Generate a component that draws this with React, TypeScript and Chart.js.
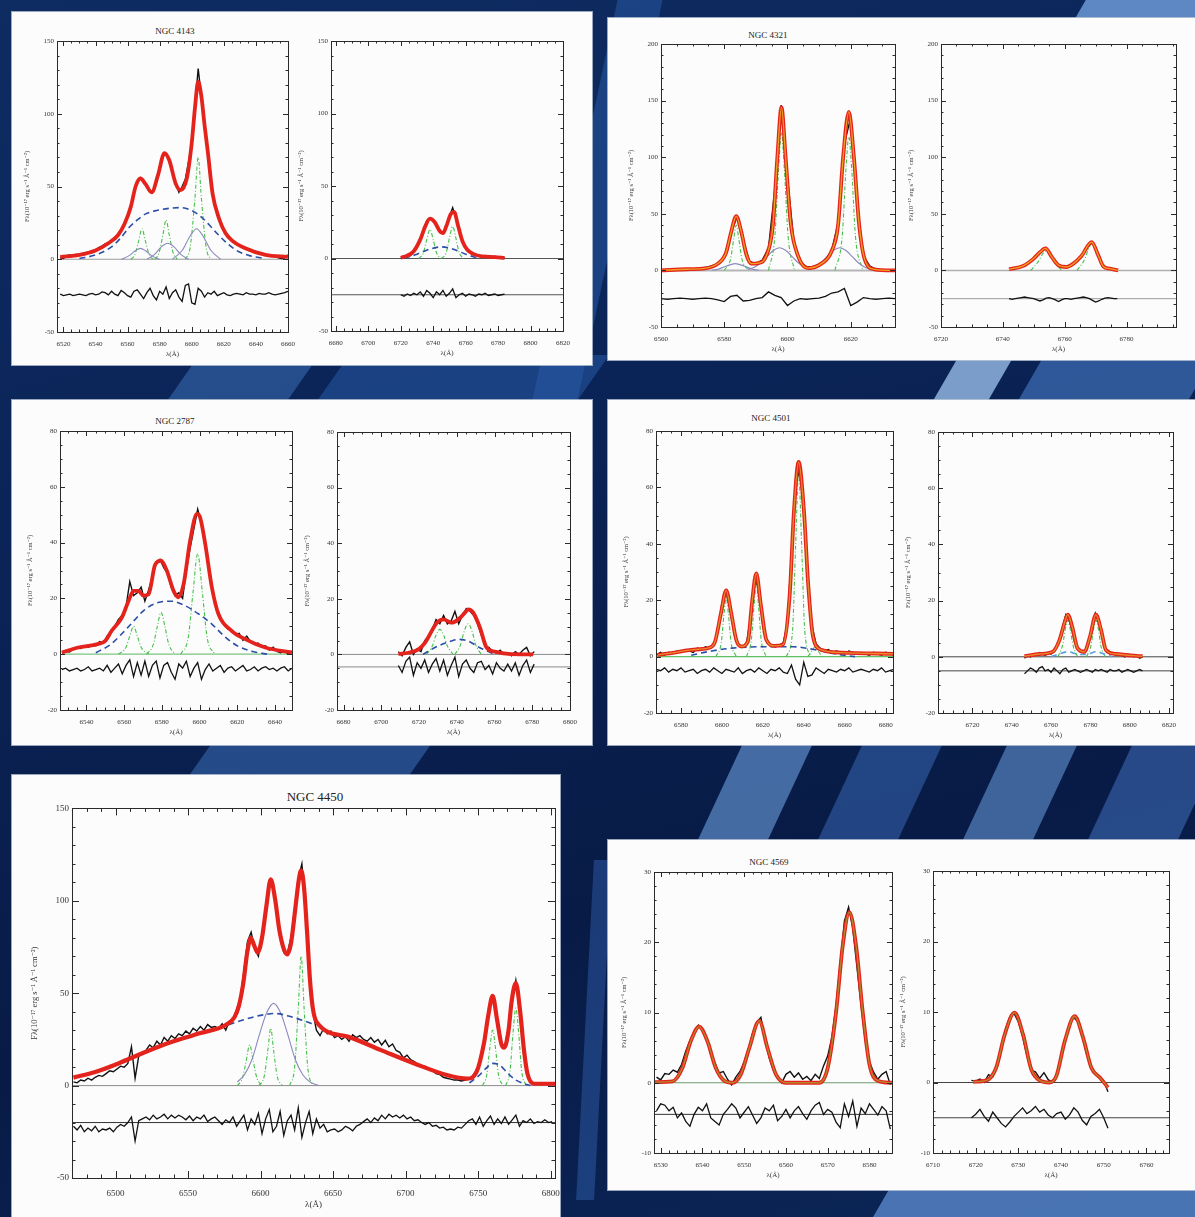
import React, { useEffect, useRef } from "react";
import { Chart, registerables } from "chart.js";

Chart.register(...registerables);
Chart.defaults.font.family = "'Liberation Serif', 'DejaVu Serif', serif";

type Pt = [number, number];

/* ======================= DATA ======================= */

// ---------- NGC 4143 : Hα + [N II] window ----------
const n4143L_xTicks = [6520, 6540, 6560, 6580, 6600, 6620, 6640, 6660];
const n4143_yTicks = [-50, 0, 50, 100, 150];
const n4143L_x0 = 6518;
const n4143L_dx = 2;
const n4143L_obs = [
  1, 0.5, 2.5, 3, 2.5, 3.5, 3, 4, 4.5, 5,
  5.5, 6.5, 8, 9, 10.5, 11.5, 13, 15, 16.5, 20,
  24.5, 29, 37, 46, 53, 56, 53, 51, 47, 47,
  55, 63, 71, 72, 68, 59, 52, 46, 50, 55,
  67, 80, 105, 131, 112, 90, 73, 52, 40, 31,
  25, 20, 17, 14, 12, 10.5, 9, 8, 7.5, 6,
  5.5, 5, 4, 3.5, 3, 2.5, 2.5, 2, 1, 0.5,
  1, 3,
];
const n4143L_res = [
  -24, -25, -24.5, -24, -25, -24.5, -24, -24.5, -25, -24,
  -23.5, -24.5, -24, -22.5, -23, -24.5, -22, -24, -25, -21.5,
  -23, -25, -26, -22, -21, -24, -27, -23, -20, -25,
  -28, -22, -24, -19, -27, -23, -21, -26, -29, -18,
  -17, -30, -31, -20, -22, -26, -23, -24, -22, -25,
  -24, -23, -24.5, -25, -24, -23.5, -24, -24.5, -23, -24,
  -24, -24.5, -23.5, -24, -24, -23, -24, -24.5, -24, -23.5,
  -23, -22,
];
const n4143L_model: Pt[] = [
  [6518, 1.5], [6530, 3], [6540, 6], [6548, 11], [6554, 16.5], [6558, 24], [6562, 36], [6565, 50],
  [6568, 55.5], [6571, 52], [6575, 46], [6579, 58], [6583, 73], [6586, 68], [6590, 52], [6593, 47.5],
  [6597, 56], [6600, 80], [6602, 104], [6604, 122], [6606, 112], [6608, 92], [6610, 74], [6613, 45],
  [6617, 28], [6621, 18], [6625, 13], [6633, 7.7], [6646, 3], [6660, 1.6],
];
const n4143L_broad: Pt[] = [
  [6530, 0.5], [6540, 3], [6550, 8.5], [6556, 15], [6561, 22], [6566, 27], [6571, 31], [6578, 33.5],
  [6586, 35], [6593, 35.5], [6600, 33.5], [6606, 29], [6611, 23.5], [6616, 17.5], [6622, 11], [6628, 6],
  [6636, 2.5], [6646, 0.5],
];
const n4143L_inter: Pt[][] = [
  [[6556, 0], [6561, 2.5], [6565, 6], [6568, 7.5], [6571, 6], [6575, 2.5], [6580, 0]],
  [[6572, 0], [6577, 3.5], [6581, 8.5], [6585, 11], [6589, 8.5], [6593, 3.5], [6598, 0]],
  [[6588, 0], [6594, 6], [6599, 16], [6603, 21], [6607, 16], [6612, 6], [6618, 0]],
];
const n4143L_narrow: Pt[][] = [
  [[6562, 0], [6564.5, 3], [6567, 13], [6569, 21], [6571, 13], [6573.5, 3], [6576, 0]],
  [[6577, 0], [6579.5, 4], [6582, 16.5], [6584, 27], [6586, 16.5], [6588.5, 4], [6591, 0]],
  [[6596, 0], [6599, 8], [6602, 42], [6604, 70], [6606, 42], [6609, 8], [6612, 0]],
];

// ---------- NGC 4143 : [S II] window ----------
const n4143R_xTicks = [6680, 6700, 6720, 6740, 6760, 6780, 6800, 6820];
const n4143R_x0 = 6720;
const n4143R_dx = 2;
const n4143R_obs = [
  0, 1, 2.5, 2, 5, 9, 14, 20, 26, 28,
  26.5, 22, 18, 17, 23, 29, 35, 28, 19, 12,
  7, 5.5, 3, 2.5, 2, 1, 2, 1.5, 0.5, 1.5,
  1, 0, 0.5,
];
const n4143R_res = [
  -25, -26, -24.5, -25.5, -24, -25, -23, -26, -22, -24,
  -27, -23, -25, -22, -26, -24, -21, -27, -25, -24,
  -26, -24.5, -25, -26, -24.5, -25, -24, -25.5, -25, -24.5,
  -25.5, -25, -24.5,
];
const n4143R_model: Pt[] = [
  [6720, 0.5], [6724, 2], [6728, 5], [6732, 13], [6735, 22], [6738, 27.5], [6741, 25], [6744, 19],
  [6746, 17.5], [6748, 22], [6751, 31], [6753, 32], [6755, 24], [6758, 12], [6761, 6], [6765, 3],
  [6770, 1.5], [6778, 1], [6784, 0.5],
];
const n4143R_broad: Pt[] = [[6722, 0], [6730, 3], [6738, 6.5], [6745, 8], [6752, 6.5], [6760, 3], [6768, 0]];
const n4143R_narrow: Pt[][] = [
  [[6731, 0], [6734, 4], [6736, 13], [6738, 20], [6740, 13], [6742, 4], [6745, 0]],
  [[6745, 0], [6748, 4], [6750, 14], [6752, 22], [6754, 14], [6756, 4], [6759, 0]],
];

// ---------- NGC 4321 : Hα + [N II] ----------
const n4321L_xTicks = [6560, 6580, 6600, 6620];
const n4321_yTicks = [-50, 0, 50, 100, 150, 200];
const n4321L_x0 = 6560;
const n4321L_dx = 2;
const n4321L_obs = [
  0.5, 0, 1, 0.5, 1.5, 1, 2, 2.5, 4, 6,
  12, 32, 47, 27, 8, 6, 9, 20, 72, 146,
  82, 26, 8, 3, 3.5, 5, 9, 18, 42, 112,
  135, 60, 13, 4, 1, 0.5, 0, 0.5,
];
const n4321L_res = [
  -25, -25.5, -25, -24.5, -25, -25.5, -25, -24.5, -25, -26,
  -27.5, -23, -22, -27, -26.5, -25, -24, -19, -22, -24,
  -31, -27, -25, -25.5, -25, -24.5, -23, -20, -19, -16,
  -31, -28, -24, -25, -25.5, -25, -24.5, -25,
];
const n4321L_model: Pt[] = [
  [6560, 0], [6568, 1], [6573, 1.5], [6578, 6], [6580.5, 15], [6582.2, 34], [6583.8, 48], [6585.4, 34],
  [6587, 14], [6588.6, 6], [6590.7, 6.5], [6593.3, 13], [6595.4, 40], [6596.8, 100], [6598.1, 144],
  [6599.4, 100], [6601, 42], [6603.3, 13], [6606.5, 2], [6610.7, 6], [6613.8, 16], [6616, 40],
  [6617.6, 100], [6619.4, 140], [6621, 100], [6622.6, 42], [6624.4, 10], [6627.5, 1], [6634, 0],
];
const n4321L_inter: Pt[][] = [
  [[6576, 0.1], [6578, 1], [6580.5, 3.6], [6583.5, 6], [6586.5, 3.6], [6589, 1], [6591, 0.1]],
  [[6587.5, 0.8], [6589.5, 2.7], [6591.5, 6.5], [6593.5, 12.1], [6595.5, 17.6], [6597.5, 20],
   [6599.5, 17.6], [6601.5, 12.1], [6603.5, 6.5], [6605.5, 2.7], [6607.5, 0.8]],
  [[6606.5, 0.8], [6608.5, 2.7], [6610.5, 6.5], [6612.5, 12.1], [6614.5, 17.6], [6616.5, 20],
   [6618.5, 17.6], [6620.5, 12.1], [6622.5, 6.5], [6624.5, 2.7], [6626.5, 0.8]],
];
const n4321L_narrow: Pt[][] = [
  [[6580, 0], [6582, 10], [6583, 28], [6583.8, 40], [6584.6, 28], [6585.6, 10], [6587.6, 0]],
  [[6594, 0], [6596, 30], [6597.2, 90], [6598.1, 122], [6599, 90], [6600.2, 30], [6602.2, 0]],
  [[6615, 0], [6617.3, 30], [6618.5, 90], [6619.4, 118], [6620.3, 90], [6621.5, 30], [6623.8, 0]],
];

// ---------- NGC 4321 : [S II] ----------
const n4321R_xTicks = [6720, 6740, 6760, 6780];
const n4321R_x0 = 6742;
const n4321R_dx = 1;
const n4321R_obs = [
  1, 1.5, 2, 3, 3.5, 5, 6.5, 8.5, 11, 13.5,
  16.5, 19, 19, 15, 11, 7, 4.5, 3.5, 3, 3.5,
  5, 6.5, 8.5, 11.5, 15, 20, 24, 24.5, 19, 12,
  5.5, 2.5, 2, 1, 1.5, 0.5,
];
const n4321R_res = [
  -25, -25.5, -25, -24.5, -24, -23.5, -24, -24.5, -25, -26,
  -27, -26, -24.5, -24, -25, -26, -27.5, -26, -25, -25,
  -25.5, -25, -24.5, -24, -23.5, -24, -25, -26.5, -28, -27,
  -25.5, -24.5, -24, -24.5, -25, -25,
];
const n4321R_model: Pt[] = [
  [6742, 1], [6746.6, 4], [6749.8, 10], [6752, 16], [6753.8, 19.5], [6755.8, 12], [6758, 4.5],
  [6760.6, 3], [6762.8, 6], [6765.5, 13], [6768.7, 25], [6770.9, 13], [6772.5, 3.5], [6774.6, 1.5],
  [6777.3, 0],
];
const n4321R_narrow: Pt[][] = [
  [[6749, 0], [6751.5, 8], [6753, 15], [6753.8, 17], [6754.8, 15], [6756.5, 8], [6759, 0]],
  [[6764, 0], [6766.5, 10], [6768, 21], [6768.7, 23], [6769.5, 21], [6771.5, 10], [6774, 0]],
];

// ---------- NGC 2787 : Hα + [N II] ----------
const n2787L_xTicks = [6540, 6560, 6580, 6600, 6620, 6640];
const n2787_yTicks = [-20, 0, 20, 40, 60, 80];
const n2787L_x0 = 6527;
const n2787L_dx = 2;
const n2787L_obs = [
  0.5, 1, 0.8, 1.8, 2.2, 2.0, 3.0, 2.5, 3.2, 3.0,
  4.5, 4.0, 6.5, 7.5, 10, 12.5, 14, 17, 26, 21,
  22, 24, 19, 23, 28, 33, 34, 31, 29, 24,
  21, 22, 20, 30, 38, 45, 52, 47, 40, 29,
  22, 17, 13, 11, 9, 8.5, 7, 7.5, 5, 6.5,
  4.5, 3.5, 4, 2.5, 3, 1.5, 2.5, 1, 0.5, 1.2,
  0, 0.8,
];
const n2787L_res = [
  -5.5, -5, -6, -5.5, -5, -6, -5.5, -4.5, -6, -5.5,
  -5, -6, -4, -6.5, -5, -3.5, -7, -4, -2, -8,
  -3, -7.5, -2.5, -8, -4, -2.5, -8.5, -4, -3, -6.5,
  -9, -3.5, -5, -2.5, -8, -5, -3, -9, -5.5, -3.5,
  -6, -5, -4, -6.5, -5, -4.5, -6, -5, -4, -6,
  -5.5, -4.5, -6, -5, -4.5, -5.5, -5, -6, -5, -4.5,
  -6, -5,
];
const n2787L_model: Pt[] = [
  [6527, 0.6], [6535.7, 2.4], [6546, 3.6], [6550, 4.8], [6553.4, 8.4], [6558.7, 13], [6562.3, 19],
  [6565, 22.7], [6567.6, 22.7], [6570.2, 21], [6573, 21.5], [6576.4, 32], [6579.6, 33.5], [6582.6, 30],
  [6586.2, 22.7], [6588.8, 20.4], [6591.5, 25], [6595, 40.7], [6598.6, 50.3], [6600.3, 49], [6603, 39.5],
  [6606.5, 24], [6610, 14.4], [6617, 8.4], [6624.2, 5.4], [6634.8, 2.4], [6649, 0.6],
];
const n2787L_broad: Pt[] = [
  [6545, 0.5], [6553, 3.6], [6562, 9.6], [6571, 16], [6578, 18.5], [6585, 19], [6592, 17.5],
  [6599.5, 14.4], [6606.5, 10.8], [6613, 6.5], [6620, 3], [6628, 1], [6636, 0],
];
const n2787L_narrow: Pt[][] = [
  [[6557, 0], [6561, 2.5], [6563, 6.5], [6565, 10], [6567, 6.5], [6569, 2.5], [6573, 0]],
  [[6572, 0], [6575.5, 3.5], [6577.6, 10], [6579.6, 15], [6581.6, 10], [6583.7, 3.5], [6587, 0]],
  [[6590, 0], [6594, 6], [6596.5, 22], [6599, 36], [6601.5, 22], [6604, 6], [6608, 0]],
];

// ---------- NGC 2787 : [S II] ----------
const n2787R_xTicks = [6680, 6700, 6720, 6740, 6760, 6780, 6800];
const n2787R_x0 = 6709;
const n2787R_dx = 2;
const n2787R_obs = [
  1, -0.5, 2.5, 4.5, 0, 2, 1, 5, 6.5, 9,
  12.5, 11, 14, 11, 12, 15.5, 11, 14, 16.5, 15.5,
  14, 11, 7, 3, 2.5, 1, 0.5, 1.5, 0, 0.5,
  -0.5, 1, 0, 1.5, 2.5, -0.5, 1,
];
const n2787R_res = [
  -4, -6.5, -2.5, -1, -7.5, -3, -5, -2, -6.5, -3.5,
  -1.5, -6, -2, -7.5, -4, -1, -8, -3.5, -2, -5,
  -6.5, -3, -2.5, -5.5, -4, -7, -3, -5, -6, -3.5,
  -6, -3, -7.5, -4, -2, -6.5, -3.5,
];
const n2787R_model: Pt[] = [
  [6709, 0.2], [6714.4, 0.6], [6719.7, 1.8], [6723.2, 4.2], [6726.7, 8.4], [6729.4, 11.4],
  [6732.9, 12.6], [6737.3, 11.4], [6740.8, 12.6], [6744.3, 15], [6746.1, 16.2], [6748.7, 15],
  [6752.3, 9.6], [6755.8, 2.4], [6760.2, 1], [6767.3, 0.2], [6780.5, 0],
];
const n2787R_broad: Pt[] = [[6722, 0], [6730, 3], [6737, 4.8], [6741, 5.4], [6746, 4.8], [6752, 2.5], [6760, 0]];
const n2787R_narrow: Pt[][] = [
  [[6724, 0], [6727, 3], [6729, 7], [6731, 9], [6733, 7], [6735, 3], [6738, 0]],
  [[6739, 0], [6742, 3.5], [6744, 8.5], [6746, 11], [6748, 8.5], [6750, 3.5], [6753, 0]],
];

// ---------- NGC 4501 : Hα + [N II] ----------
const n4501L_xTicks = [6580, 6600, 6620, 6640, 6660, 6680];
const n4501_yTicks = [-20, 0, 20, 40, 60, 80];
const n4501L_x0 = 6568;
const n4501L_dx = 2;
const n4501L_obs = [
  0.5, 1.5, 0.5, 1.5, 1, 2, 1.5, 2.5, 2, 1.5,
  3, 2.5, 3.5, 3, 4, 9, 19, 23, 17, 8,
  4.5, 3.5, 4.5, 14, 28, 24, 11, 5, 4, 3.5,
  4, 5, 12, 37, 62, 66, 52, 26, 11, 4.5,
  3, 2, 2.5, 1.5, 2, 1.5, 1, 2, 1.5, 1,
  1.5, 1, 0.5, 1.5, 1, 0.5, 1.5, 1, 0.5,
];
const n4501L_res = [
  -4.5, -5, -4, -5.5, -4.5, -5, -4, -5.5, -5, -4.5,
  -6, -5, -4.5, -5.5, -4, -5, -6, -4.5, -5, -5.5,
  -4, -6, -5, -4.5, -5.5, -4, -5, -6, -4.5, -5,
  -4, -5.5, -6, -3, -8, -10, -2, -7, -6.5, -4,
  -5, -6, -4.5, -5, -5.5, -4.5, -5, -4, -5.5, -5,
  -4.5, -5, -5.5, -4.5, -5, -4, -5.5, -5, -4.5,
];
const n4501L_model: Pt[] = [
  [6568.6, 0.6], [6576.8, 1.4], [6585, 2.4], [6593.1, 3], [6596.4, 4.8], [6599.6, 15.6], [6602.1, 23.5],
  [6604.5, 15.6], [6607, 6], [6609.4, 3.6], [6612.7, 5.4], [6614.7, 19], [6616.8, 29.5], [6618.9, 19],
  [6621.7, 6], [6625.8, 3.8], [6629.8, 4.2], [6633.1, 21.6], [6635.2, 51.5], [6637.5, 69], [6640.1, 51.5],
  [6642.1, 26.3], [6644.5, 7.2], [6648.6, 2.4], [6658.4, 1.4], [6683.6, 1],
];
const n4501L_broad: Pt[] = [[6585, 0.5], [6595, 2], [6605, 3], [6620, 3.5], [6635, 3.5], [6645, 2.5], [6655, 1], [6665, 0]];
const n4501L_narrow: Pt[][] = [
  [[6597, 0], [6599.7, 5], [6601, 15], [6602.1, 21], [6603.2, 15], [6604.5, 5], [6607, 0]],
  [[6612, 0], [6614.4, 6], [6615.7, 18], [6616.8, 26], [6617.9, 18], [6619.2, 6], [6621.6, 0]],
  [[6631.5, 0], [6634.5, 9], [6636, 39], [6637.5, 65], [6639, 39], [6640.5, 9], [6643.5, 0]],
  [[6642, 0], [6644, 2], [6645.5, 3.5], [6647, 2], [6649, 0]],
];

// ---------- NGC 4501 : [S II] ----------
const n4501R_xTicks = [6720, 6740, 6760, 6780, 6800, 6820];
const n4501R_x0 = 6746.5;
const n4501R_dx = 1.5;
const n4501R_obs = [
  -0.5, 0.5, 0, 1, 0.5, 1.5, 1, 0.5, 1.5, 1,
  2.5, 4, 7, 11, 15, 13.5, 10, 5, 3, 2,
  1.5, 3, 6.5, 11.5, 15.5, 13, 8.5, 3.5, 1.5, 1,
  1.5, 0.5, 1, 0.5, 0, 1, 0.5, 0, 0.5, -0.5,
  0,
];
const n4501R_res = [
  -6, -5, -4, -4.5, -5.5, -4, -3.5, -5, -4.5, -5.5,
  -4, -5, -6, -4.5, -4, -5.5, -5, -4.5, -5, -5.5,
  -5, -4.5, -5, -5.5, -4.5, -5, -4.5, -5, -5.5, -4.5,
  -5, -5, -4.5, -5.5, -5, -4.5, -5, -5.5, -5, -4.5,
  -5,
];
const n4501R_model: Pt[] = [
  [6746.5, 0.2], [6754.1, 1], [6760.9, 1.8], [6764.3, 6], [6766.8, 12], [6768.5, 15], [6770.7, 10.8],
  [6773.5, 3], [6776.9, 1.8], [6779.8, 7.2], [6782.8, 15], [6785.4, 9.6], [6787.9, 2.4], [6793, 1],
  [6806.5, 0.2],
];
const n4501R_broad: Pt[] = [
  [6760, 0], [6764, 1], [6768.5, 1.8], [6773, 1], [6776, 0.8], [6779, 1], [6782.8, 1.8], [6787, 1], [6791, 0],
];
const n4501R_narrow: Pt[][] = [
  [[6763.5, 0], [6765.8, 4], [6767.3, 10], [6768.5, 13], [6769.7, 10], [6771.2, 4], [6773.5, 0]],
  [[6778, 0], [6780.3, 4], [6781.6, 10], [6782.8, 13], [6784, 10], [6785.3, 4], [6787.6, 0]],
];

// ---------- NGC 4450 : full window ----------
const n4450_xTicks = [6500, 6550, 6600, 6650, 6700, 6750, 6800];
const n4450_yTicks = [-50, 0, 50, 100, 150];
const n4450_x0 = 6471;
const n4450_dx = 2.5;
const n4450_obs = [
  2, 1.5, 3, 2.5, 4, 3, 4.5, 5.5, 5, 6.5,
  8, 7.5, 9, 10.5, 10, 12, 21, 4, 16, 17.5,
  19, 22, 20.5, 24, 22, 26, 24, 27, 25.5, 28,
  27, 29.5, 28, 31, 29.5, 32, 30, 33, 31.5, 32,
  31, 33.5, 30, 35, 36, 41, 47, 62, 78, 83,
  74, 70, 82, 95, 110, 107, 94, 80, 72, 72,
  80, 96, 112, 120, 98, 63, 40, 30, 27, 31,
  28, 29.5, 26, 27, 25, 26.5, 24, 27.5, 26, 27,
  25, 24, 26, 23.5, 25, 22, 24.5, 21, 22.5, 19,
  18, 15, 16.5, 14, 13, 11.5, 10, 10.5, 9, 8,
  6.5, 6, 4.5, 4, 3.5, 3, 3, 2.5, 3, 3.5,
  5, 8, 12.5, 19, 32, 46, 48, 31, 22, 22,
  32, 46, 57, 43, 20, 6, 2, 0.5, 1.5, 0.5,
  1, 0.5, 1,
];
const n4450_res = [
  -22, -24, -21.5, -25, -23, -24.5, -22, -25, -23.5, -24,
  -23, -25, -22.5, -21, -22, -20, -17, -30, -19, -18,
  -17, -18.5, -16, -18, -17, -15.5, -18, -16, -17.5, -16,
  -17, -18.5, -16.5, -19, -17, -18, -16, -19.5, -18, -17,
  -19, -21, -18.5, -20, -17, -22, -19, -16, -24, -18,
  -21, -15, -26, -18, -13, -25, -22, -14, -27, -19,
  -16, -24, -12, -28, -20, -14, -26, -18, -23, -21,
  -25, -24, -23.5, -25, -24, -22, -23, -24.5, -22, -21,
  -19.5, -18, -20, -17.5, -19, -16, -18, -15.5, -17, -16,
  -17.5, -16, -18, -17, -19, -18.5, -20, -21, -20, -22,
  -21.5, -23, -22.5, -24, -23.5, -24, -22.5, -23, -21, -19,
  -18, -21, -17, -22, -19, -16.5, -21, -18, -20.5, -17,
  -21, -18.5, -16, -22, -19, -20, -18, -20.5, -19.5, -20,
  -18.5, -20, -19.5,
];
const n4450_model: Pt[] = [
  [6471, 4.3], [6486, 7.4], [6502, 12], [6521, 18.3], [6539, 23.7], [6558, 28.3], [6576, 32.8],
  [6582, 37], [6585, 43], [6588, 55], [6591, 73], [6593.3, 80], [6595.5, 76], [6598, 72], [6601, 80],
  [6604, 97], [6607, 111.6], [6610, 101], [6613, 84], [6616, 74], [6618.4, 71], [6621, 77], [6624, 96],
  [6626.5, 112], [6628, 116.5], [6630, 107], [6632, 84], [6634, 58], [6636, 42], [6639, 34],
  [6660, 26.5], [6683, 19.2], [6706, 12], [6729, 5.6], [6742.5, 3.8], [6749, 7.5], [6754, 22.8],
  [6757, 38], [6760, 48.5], [6763, 36], [6766, 22.5], [6768, 20.5], [6771, 30], [6773, 45],
  [6776, 55.4], [6779, 40], [6781.5, 20], [6784, 6.5], [6788.5, 1], [6803, 1],
];
const n4450_broad: Pt[][] = [
  [[6578, 33], [6590, 36], [6600, 38], [6610, 39], [6620, 37.5], [6630, 35], [6637, 33]],
  [[6744, 1.5], [6750, 5], [6755, 9], [6760, 12], [6765, 11], [6770, 7], [6776, 3], [6782, 1], [6786, 0]],
];
const n4450_inter: Pt[][] = [
  [[6584, 2], [6589, 6], [6594, 14], [6599, 27], [6604, 39], [6609, 44.5], [6614, 39], [6619, 27],
   [6624, 14], [6629, 6], [6634, 2], [6640, 0]],
];
const n4450_narrow: Pt[][] = [
  [[6584, 0], [6587.5, 4], [6590, 13], [6592.5, 22], [6595, 13], [6597.5, 4], [6601, 0]],
  [[6599, 0], [6602.5, 5], [6605, 19], [6607, 31], [6609, 19], [6611.5, 5], [6615, 0]],
  [[6620, 0], [6623.5, 10], [6626, 42], [6628, 70], [6630, 42], [6632.5, 10], [6636, 0]],
  [[6753, 0], [6756, 6], [6758, 20], [6760, 30], [6762, 20], [6764, 6], [6767, 0]],
  [[6769, 0], [6772, 8], [6774, 28], [6776, 42], [6778, 28], [6780, 8], [6783, 0]],
];

// ---------- NGC 4569 : Hα + [N II] ----------
const n4569L_xTicks = [6530, 6540, 6550, 6560, 6570, 6580];
const n4569_yTicks = [-10, 0, 10, 20, 30];
const n4569L_x0 = 6529;
const n4569L_dx = 1;
const n4569L_obs = [
  0.8, 0.4, 1.3, 1.2, 1.8, 1.5, 2.6, 4.5, 6, 7.3,
  8.2, 7.5, 6.2, 4.0, 2.8, 1.4, 1.6, 0.5, -0.3, 0.8,
  1.6, 3, 4.8, 7, 8.6, 9.3, 6.2, 3.5, 1.8, 1.0,
  0, 1.2, 1.6, 0.8, 1.4, 0.5, 0.9, 0.3, 1.2, 0.6,
  2.4, 3.8, 6.5, 11, 17, 23, 25, 22, 16.5, 11,
  6, 3, 1.5, 0.5, 1.2, 1.6, -0.3,
];
const n4569L_res = [
  -4, -3, -3.2, -4, -3.5, -5, -4.3, -5.5, -6.2, -4.5,
  -3.5, -4, -3, -5, -5.5, -6, -4.5, -3.8, -3, -3.6,
  -5, -4.2, -3.4, -4.6, -5.8, -5, -3.6, -4, -3.2, -5.4,
  -4.8, -3.8, -5, -4, -3.4, -4.4, -5.2, -4, -3.2, -2.8,
  -4.5, -3.8, -4.2, -5.6, -6.4, -3, -4.8, -2.6, -6.2, -3.6,
  -4.4, -3, -3.8, -4.6, -3.4, -4, -6.6,
];
const n4569L_model: Pt[] = [
  [6528.4, 0.1], [6532.8, 0.2], [6535.2, 2.1], [6537.2, 5.9], [6539.2, 8], [6541.2, 5.9], [6543.2, 2.1],
  [6545.2, 0.3], [6547.2, 0], [6549.2, 1.2], [6551.2, 4.9], [6553.6, 8.8], [6555.6, 4.9], [6557.6, 1.2],
  [6560, 0], [6568, 0], [6570, 2.1], [6572, 10], [6573.6, 19.5], [6575.2, 24.3], [6576.8, 19.5],
  [6578.4, 10], [6580, 2.6], [6582, 0.3], [6585.4, 0],
];

// ---------- NGC 4569 : [S II] ----------
const n4569R_xTicks = [6710, 6720, 6730, 6740, 6750, 6760];
const n4569R_x0 = 6719;
const n4569R_dx = 1;
const n4569R_obs = [
  0.3, 0.2, 0.5, 0, 1.1, 0.8, 2.2, 4.8, 7.6, 9.3,
  9.8, 8.6, 6.5, 3.8, 1.7, 1.5, 0.6, 1.4, 0.4, 0,
  1.2, 3.4, 6, 8.4, 9.2, 8.6, 6.4, 4, 2.4, 1.4,
  0.8, 0.2, -1.3,
];
const n4569R_res = [
  -5, -4.5, -3.8, -4.8, -5.5, -4.2, -5, -5.8, -6.3, -5.6,
  -4.8, -4.2, -3.6, -4.4, -4, -3.4, -4.2, -3.8, -4.6, -5,
  -4.4, -4.2, -5.2, -4.6, -3.6, -4.2, -5.4, -6, -4.8, -4.4,
  -3.8, -5, -6.5,
];
const n4569R_model: Pt[] = [
  [6719.4, 0.1], [6722.5, 0.3], [6724.8, 2.1], [6726.8, 6.8], [6729.1, 9.9], [6731.1, 6.8], [6733, 1.9],
  [6735, 0.3], [6737.3, 0], [6738.9, 0.9], [6740.9, 5.9], [6743.2, 9.4], [6745.2, 6.3], [6747.1, 2.1],
  [6749.1, 0.7], [6751, -0.7],
];

/* ======================= LAYOUT / STYLE ======================= */

interface PlotSpec {
  key: string;
  box: [number, number, number, number];
  xRange: [number, number];
  xTicks: number[];
  xMajor: number;
  xMinor: number;
  yRange: [number, number];
  yTicks: number[];
  yMajor: number;
  yMinor: number;
  x0: number;
  dx: number;
  obs: number[];
  res: number[];
  model: Pt[];
  overlay?: string;
  broad?: Pt[][];
  broadColor?: string;
  inter?: Pt[][];
  narrow?: Pt[][];
  zero: [number, number];
  zeroColor: string;
  zeroWidth: number;
  resLine?: number;
  resLineColor?: string;
  big?: boolean;
}

const RED = "#e4231c";
const GREEN = "#45c04a";
const BLUE = "#2b4fa6";
const PURPLE = "#8b89bd";

const PLOTS: PlotSpec[] = [
  {
    key: "n4143L", box: [57, 41, 288, 332], xRange: [6516, 6660], xTicks: n4143L_xTicks, xMajor: 20, xMinor: 5,
    yRange: [-50, 150], yTicks: n4143_yTicks, yMajor: 50, yMinor: 10, x0: n4143L_x0, dx: n4143L_dx,
    obs: n4143L_obs, res: n4143L_res, model: n4143L_model, broad: [n4143L_broad], inter: n4143L_inter,
    narrow: n4143L_narrow, zero: [6518, 6660], zeroColor: "#9a9a9a", zeroWidth: 1.2,
  },
  {
    key: "n4143R", box: [331, 41, 563, 331], xRange: [6677, 6820], xTicks: n4143R_xTicks, xMajor: 20, xMinor: 5,
    yRange: [-50, 150], yTicks: n4143_yTicks, yMajor: 50, yMinor: 10, x0: n4143R_x0, dx: n4143R_dx,
    obs: n4143R_obs, res: n4143R_res, model: n4143R_model, broad: [n4143R_broad], narrow: n4143R_narrow,
    zero: [6677, 6820], zeroColor: "#555", zeroWidth: 1, resLine: -25, resLineColor: "#555",
  },
  {
    key: "n4321L", box: [661, 44, 895, 327], xRange: [6560, 6634], xTicks: n4321L_xTicks, xMajor: 20, xMinor: 5,
    yRange: [-50, 200], yTicks: n4321_yTicks, yMajor: 50, yMinor: 10, x0: n4321L_x0, dx: n4321L_dx,
    obs: n4321L_obs, res: n4321L_res, model: n4321L_model, overlay: "#f0a020", inter: n4321L_inter,
    narrow: n4321L_narrow, zero: [6560, 6634], zeroColor: "#b5b5b5", zeroWidth: 2,
  },
  {
    key: "n4321R", box: [941, 44, 1176, 327], xRange: [6720, 6796], xTicks: n4321R_xTicks, xMajor: 20, xMinor: 5,
    yRange: [-50, 200], yTicks: n4321_yTicks, yMajor: 50, yMinor: 10, x0: n4321R_x0, dx: n4321R_dx,
    obs: n4321R_obs, res: n4321R_res, model: n4321R_model, overlay: "#f0a020", narrow: n4321R_narrow,
    zero: [6720, 6796], zeroColor: "#b0b0b0", zeroWidth: 1.5, resLine: -25, resLineColor: "#9a9a9a",
  },
  {
    key: "n2787L", box: [60, 431, 292, 710], xRange: [6526, 6649], xTicks: n2787L_xTicks, xMajor: 20, xMinor: 5,
    yRange: [-20, 80], yTicks: n2787_yTicks, yMajor: 20, yMinor: 5, x0: n2787L_x0, dx: n2787L_dx,
    obs: n2787L_obs, res: n2787L_res, model: n2787L_model, broad: [n2787L_broad], narrow: n2787L_narrow,
    zero: [6527, 6649], zeroColor: "#7cc47f", zeroWidth: 1.2,
  },
  {
    key: "n2787R", box: [337, 432, 570, 710], xRange: [6676.5, 6800], xTicks: n2787R_xTicks, xMajor: 20, xMinor: 5,
    yRange: [-20, 80], yTicks: n2787_yTicks, yMajor: 20, yMinor: 5, x0: n2787R_x0, dx: n2787R_dx,
    obs: n2787R_obs, res: n2787R_res, model: n2787R_model, broad: [n2787R_broad], narrow: n2787R_narrow,
    zero: [6676.5, 6800], zeroColor: "#8a8a8a", zeroWidth: 1, resLine: -4.5, resLineColor: "#8a8a8a",
  },
  {
    key: "n4501L", box: [656, 431, 893, 713], xRange: [6567.8, 6683.6], xTicks: n4501L_xTicks, xMajor: 20, xMinor: 5,
    yRange: [-20, 80], yTicks: n4501_yTicks, yMajor: 20, yMinor: 5, x0: n4501L_x0, dx: n4501L_dx,
    obs: n4501L_obs, res: n4501L_res, model: n4501L_model, overlay: "#e88a2a", broad: [n4501L_broad],
    narrow: n4501L_narrow, zero: [6567.8, 6683.6], zeroColor: "#5fbf62", zeroWidth: 1.2,
  },
  {
    key: "n4501R", box: [938, 432, 1173, 713], xRange: [6702.5, 6822], xTicks: n4501R_xTicks, xMajor: 20, xMinor: 5,
    yRange: [-20, 80], yTicks: n4501_yTicks, yMajor: 20, yMinor: 5, x0: n4501R_x0, dx: n4501R_dx,
    obs: n4501R_obs, res: n4501R_res, model: n4501R_model, overlay: "#e88a2a", broad: [n4501R_broad],
    broadColor: "#5aa0e0", narrow: n4501R_narrow, zero: [6702.5, 6822], zeroColor: "#444", zeroWidth: 1,
    resLine: -5, resLineColor: "#444",
  },
  {
    key: "n4450", box: [72, 808, 555, 1178], xRange: [6470, 6803], xTicks: n4450_xTicks, xMajor: 50, xMinor: 10,
    yRange: [-50, 150], yTicks: n4450_yTicks, yMajor: 50, yMinor: 10, x0: n4450_x0, dx: n4450_dx,
    obs: n4450_obs, res: n4450_res, model: n4450_model, broad: n4450_broad, inter: n4450_inter,
    narrow: n4450_narrow, zero: [6470, 6803], zeroColor: "#8a8a8a", zeroWidth: 1, resLine: -20,
    resLineColor: "#333", big: true,
  },
  {
    key: "n4569L", box: [654, 872, 892, 1153], xRange: [6528.4, 6585.4], xTicks: n4569L_xTicks, xMajor: 10, xMinor: 2,
    yRange: [-10, 30], yTicks: n4569_yTicks, yMajor: 10, yMinor: 2, x0: n4569L_x0, dx: n4569L_dx,
    obs: n4569L_obs, res: n4569L_res, model: n4569L_model, overlay: "#b8862a",
    zero: [6528.4, 6585.4], zeroColor: "#6f9a6f", zeroWidth: 1.2, resLine: -4.5, resLineColor: "#333",
  },
  {
    key: "n4569R", box: [933, 871, 1169, 1153], xRange: [6710, 6765.3], xTicks: n4569R_xTicks, xMajor: 10, xMinor: 2,
    yRange: [-10, 30], yTicks: n4569_yTicks, yMajor: 10, yMinor: 2, x0: n4569R_x0, dx: n4569R_dx,
    obs: n4569R_obs, res: n4569R_res, model: n4569R_model, overlay: "#b8862a",
    zero: [6710, 6765.3], zeroColor: "#444", zeroWidth: 1, resLine: -5, resLineColor: "#444",
  },
];

const PANELS = [
  { x: 12, y: 12, w: 580, h: 353 },
  { x: 608, y: 18, w: 590, h: 342 },
  { x: 12, y: 400, w: 580, h: 345 },
  { x: 608, y: 400, w: 590, h: 345 },
  { x: 12, y: 775, w: 548, h: 445 },
  { x: 608, y: 840, w: 590, h: 350 },
];

const TITLES = [
  { text: "NGC 4143", x: 175, y: 31, size: 9 },
  { text: "NGC 4321", x: 768, y: 35, size: 9 },
  { text: "NGC 2787", x: 175, y: 421, size: 9 },
  { text: "NGC 4501", x: 771, y: 418, size: 9 },
  { text: "NGC 4450", x: 315, y: 797, size: 13 },
  { text: "NGC 4569", x: 769, y: 862, size: 9 },
];

const STRIPES = [
  { l: 575, t: -20, w: 45, h: 440, c: "rgba(45,100,180,0.45)", sk: -12 },
  { l: 1080, t: -10, w: 160, h: 40, c: "rgba(120,170,230,0.75)", sk: -30 },
  { l: 180, t: 355, w: 120, h: 55, c: "rgba(55,105,175,0.6)", sk: -35 },
  { l: 330, t: 355, w: 260, h: 55, c: "rgba(40,90,165,0.55)", sk: -35 },
  { l: 945, t: 350, w: 55, h: 60, c: "rgba(160,200,240,0.75)", sk: -30 },
  { l: 1030, t: 350, w: 170, h: 60, c: "rgba(70,125,200,0.6)", sk: -30 },
  { l: 200, t: 740, w: 220, h: 40, c: "rgba(55,105,175,0.6)", sk: -35 },
  { l: 720, t: 735, w: 70, h: 115, c: "rgba(110,160,225,0.6)", sk: -25 },
  { l: 840, t: 735, w: 80, h: 115, c: "rgba(60,110,190,0.5)", sk: -25 },
  { l: 985, t: 735, w: 70, h: 115, c: "rgba(110,160,225,0.55)", sk: -25 },
  { l: 1110, t: 735, w: 90, h: 115, c: "rgba(70,120,200,0.5)", sk: -25 },
  { l: 585, t: 860, w: 18, h: 340, c: "rgba(50,100,180,0.45)", sk: -3 },
  { l: 880, t: 1185, w: 330, h: 40, c: "rgba(100,150,220,0.7)", sk: -30 },
];

const Y_TITLE = "F\u03bb(10\u207b\u00b9\u2077 erg s\u207b\u00b9 \u00c5\u207b\u00b9 cm\u207b\u00b2)";
const X_TITLE = "\u03bb(\u00c5)";
const SERIF = "'Liberation Serif', 'DejaVu Serif', serif";

/* ======================= CHART ======================= */

function framePlugin(s: PlotSpec) {
  return {
    id: "idlFrame",
    afterDatasetsDraw(chart: any) {
      const { ctx, chartArea: a } = chart;
      const xs = chart.scales.x;
      const ys = chart.scales.y;
      ctx.save();
      ctx.strokeStyle = "#2a2a2a";
      ctx.lineWidth = 1;
      ctx.strokeRect(Math.round(a.left) + 0.5, Math.round(a.top) + 0.5, Math.round(a.width), Math.round(a.height));
      ctx.beginPath();
      const ticks = (scale: any, major: number, minor: number, horiz: boolean) => {
        const lo = scale.min;
        const hi = scale.max;
        for (let k = Math.ceil(lo / minor - 1e-9); k * minor <= hi + 1e-9; k++) {
          const v = k * minor;
          const r = v / major;
          const isMajor = Math.abs(r - Math.round(r)) < 1e-6;
          const len = isMajor ? (s.big ? 7 : 5) : (s.big ? 3.5 : 2.5);
          const p = Math.round(scale.getPixelForValue(v)) + 0.5;
          if (horiz) {
            ctx.moveTo(p, a.bottom);
            ctx.lineTo(p, a.bottom - len);
            ctx.moveTo(p, a.top);
            ctx.lineTo(p, a.top + len);
          } else {
            ctx.moveTo(a.left, p);
            ctx.lineTo(a.left + len, p);
            ctx.moveTo(a.right, p);
            ctx.lineTo(a.right - len, p);
          }
        }
      };
      ticks(xs, s.xMajor, s.xMinor, true);
      ticks(ys, s.yMajor, s.yMinor, false);
      ctx.stroke();
      ctx.restore();
    },
  };
}

function buildDatasets(s: PlotSpec) {
  const ds: any[] = [];
  const P = (a: Pt[]) => a.map(([x, y]) => ({ x, y }));
  const G = (ys: number[]) => ys.map((y, i) => ({ x: s.x0 + i * s.dx, y }));
  const add = (data: any[], color: string, width: number, order: number, extra: any = {}) => {
    ds.push({
      data, borderColor: color, backgroundColor: color, borderWidth: width, pointRadius: 0,
      pointHoverRadius: 0, fill: false, tension: 0, order, ...extra,
    });
  };
  add([{ x: s.zero[0], y: 0 }, { x: s.zero[1], y: 0 }], s.zeroColor, s.zeroWidth, 9);
  if (s.resLine !== undefined) {
    add([{ x: s.xRange[0], y: s.resLine }, { x: s.xRange[1], y: s.resLine }], s.resLineColor || "#444", 1, 9);
  }
  (s.narrow || []).forEach((seg) =>
    add(P(seg), GREEN, 1.1, 8, { borderDash: [4, 2, 1, 2], cubicInterpolationMode: "monotone" }));
  (s.inter || []).forEach((seg) => add(P(seg), PURPLE, 1.1, 7, { cubicInterpolationMode: "monotone" }));
  (s.broad || []).forEach((seg) =>
    add(P(seg), s.broadColor || BLUE, 1.6, 6, { borderDash: [6, 4], cubicInterpolationMode: "monotone" }));
  add(G(s.res), "#111", 1.3, 4);
  add(G(s.obs), "#111", 1.4, 3);
  add(P(s.model), RED, s.big ? 4.2 : 3.8, 2, { cubicInterpolationMode: "monotone" });
  if (s.overlay) add(P(s.model), s.overlay, 1.3, 1, { cubicInterpolationMode: "monotone" });
  return ds;
}

function SpecPlot({ spec }: { spec: PlotSpec }) {
  const ref = useRef<HTMLCanvasElement>(null);
  const L = spec.big ? 44 : 36;
  const T = 8;
  const R = 16;
  const B = spec.big ? 34 : 28;
  const [bl, bt, br, bb] = spec.box;
  const W = br - bl + L + R;
  const H = bb - bt + T + B;
  const tickSize = spec.big ? 9 : 7;
  const titleSize = spec.big ? 8.5 : 6.5;

  useEffect(() => {
    if (!ref.current) return;
    const chart = new Chart(ref.current, {
      type: "line",
      data: { datasets: buildDatasets(spec) },
      options: {
        responsive: false,
        maintainAspectRatio: false,
        animation: false,
        devicePixelRatio: 1,
        events: [],
        layout: { padding: { top: T, right: R, left: 0, bottom: 0 } },
        plugins: { legend: { display: false }, tooltip: { enabled: false }, title: { display: false } },
        scales: {
          x: {
            type: "linear",
            min: spec.xRange[0],
            max: spec.xRange[1],
            afterBuildTicks: (sc: any) => {
              sc.ticks = spec.xTicks.map((v) => ({ value: v }));
            },
            afterFit: (sc: any) => {
              sc.height = B;
            },
            grid: { display: false, drawTicks: false },
            border: { display: false },
            ticks: {
              autoSkip: false,
              maxRotation: 0,
              padding: spec.big ? 10 : 8,
              color: "#333",
              font: { family: SERIF, size: tickSize },
              callback: (v: any) => String(v),
            },
            title: {
              display: true,
              text: X_TITLE,
              color: "#333",
              font: { family: SERIF, size: titleSize + 0.5 },
              padding: { top: 0, bottom: 2 },
            },
          },
          y: {
            type: "linear",
            min: spec.yRange[0],
            max: spec.yRange[1],
            afterBuildTicks: (sc: any) => {
              sc.ticks = spec.yTicks.map((v) => ({ value: v }));
            },
            afterFit: (sc: any) => {
              sc.width = L;
            },
            grid: { display: false, drawTicks: false },
            border: { display: false },
            ticks: {
              autoSkip: false,
              padding: 3,
              color: "#333",
              font: { family: SERIF, size: tickSize },
              callback: (v: any) => String(v),
            },
            title: {
              display: true,
              text: Y_TITLE,
              color: "#333",
              font: { family: SERIF, size: titleSize },
              padding: { top: 2, bottom: 0 },
            },
          },
        },
      } as any,
      plugins: [framePlugin(spec)],
    });
    return () => chart.destroy();
  }, []);

  return (
    <canvas
      ref={ref}
      width={W}
      height={H}
      style={{ position: "absolute", left: bl - L, top: bt - T, width: W, height: H, filter: "blur(0.35px)" }}
    />
  );
}

export default function App() {
  return (
    <div
      style={{
        position: "fixed",
        left: 0,
        top: 0,
        width: 1195,
        height: 1217,
        overflow: "hidden",
        background: "linear-gradient(165deg, #0e2c62 0%, #0b2457 35%, #081b46 70%, #0b2658 100%)",
      }}
    >
      {STRIPES.map((s, i) => (
        <div
          key={"s" + i}
          style={{
            position: "absolute",
            left: s.l,
            top: s.t,
            width: s.w,
            height: s.h,
            background: s.c,
            transform: `skewX(${s.sk}deg)`,
          }}
        />
      ))}
      {PANELS.map((p, i) => (
        <div
          key={"p" + i}
          style={{
            position: "absolute",
            left: p.x,
            top: p.y,
            width: p.w,
            height: p.h,
            background: "#fcfcfc",
            boxShadow: "0 0 0 1px rgba(190,200,215,0.8)",
          }}
        />
      ))}
      {TITLES.map((t, i) => (
        <div
          key={"t" + i}
          style={{
            position: "absolute",
            left: t.x,
            top: t.y,
            transform: "translate(-50%, -50%)",
            fontFamily: SERIF,
            fontSize: t.size,
            color: "#222",
            whiteSpace: "nowrap",
          }}
        >
          {t.text}
        </div>
      ))}
      {PLOTS.map((s) => (
        <SpecPlot key={s.key} spec={s} />
      ))}
    </div>
  );
}
